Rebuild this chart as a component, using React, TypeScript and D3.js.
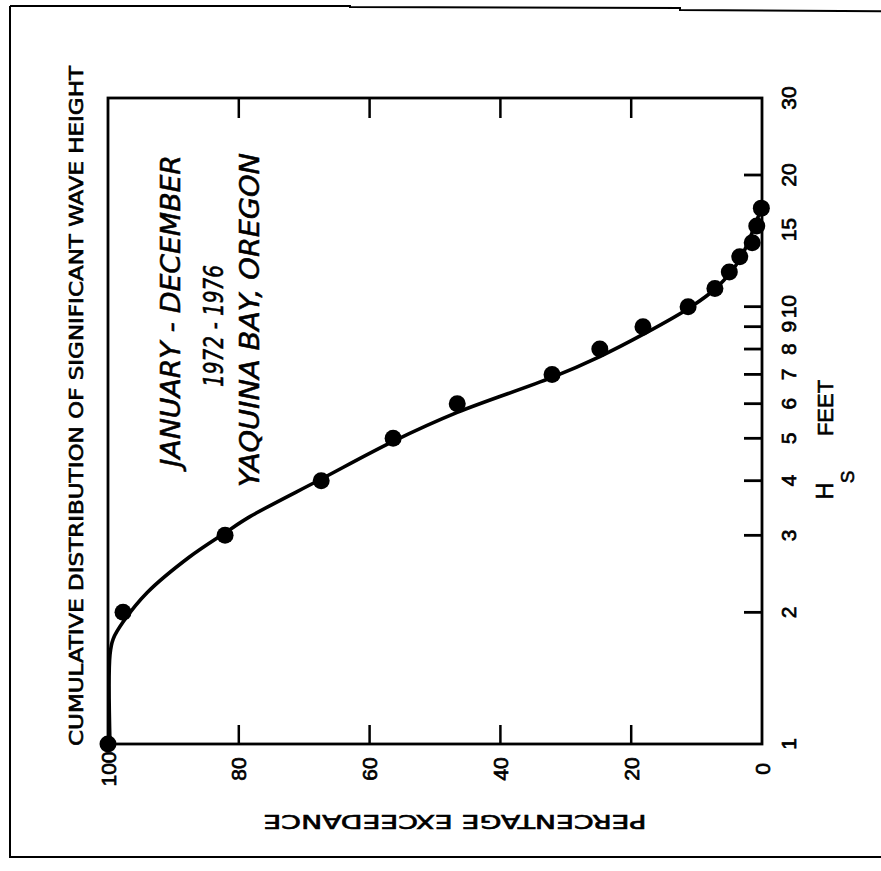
import React from "react";
import * as d3 from "d3";

// Observed data points (percentage exceedance, significant wave height in feet)
const pointPct = [100, 97.7, 82.1, 67.4, 56.4, 46.6, 32.1, 24.8, 18.2, 11.3, 7.2, 5.0, 3.4, 1.5, 0.8, 0.1];
const pointHeight = [1, 2, 3, 4, 5, 6, 7, 8, 9, 10, 11, 12, 13, 14, 15.3, 16.8];

// Fitted curve
const curvePct = [99.7, 99.7, 99.2, 97.7, 94.0, 87.5, 82.1, 78.3, 67.6, 56.4, 46.6, 32.1, 24.8, 18.2, 11.0, 6.9, 3.4, 0];
const curveHeight = [1.0, 1.6, 1.74, 1.9, 2.22, 2.68, 3.04, 3.31, 4.02, 4.92, 5.73, 6.89, 7.69, 8.64, 9.96, 11.07, 12.83, 16.97];

// Axis ticks
const pctTicks = [80, 60, 40, 20];
const pctLabels = [100, 80, 60, 40, 20, 0];
const heightTicks = [2, 3, 4, 5, 6, 7, 8, 9, 10, 20];
const heightLabels = [1, 2, 3, 4, 5, 6, 7, 8, 9, 10, 15, 20, 30];

const FONT = "'Liberation Sans', 'DejaVu Sans', Arial, sans-serif";
const NARROW = "'Liberation Sans Narrow', 'DejaVu Sans Condensed', 'Liberation Sans', sans-serif";

export default function App() {
  const W = 881;
  const H = 871;
  const left = 108, right = 762, top = 98, bottom = 744;
  const x = d3.scaleLinear().domain([100, 0]).range([left, right]);
  const y = d3.scaleLog().domain([1, 30]).range([bottom, top]);

  const curveData = curvePct.map((p, i) => [p, curveHeight[i]] as [number, number]);
  const line = d3
    .line<[number, number]>()
    .x((d) => x(d[0]))
    .y((d) => y(d[1]))
    .curve(d3.curveCatmullRom.alpha(0.5));

  const labelFmt = (v: number) => String(v);
  const ink = { fill: "#000", stroke: "#000" };

  return (
    <svg
      width={W}
      height={H}
      style={{ position: "absolute", left: 0, top: 0, background: "#fff" }}
    >
      <rect x={0} y={0} width={W} height={H} fill="#fff" />
      {/* outer frame */}
      <path
        d="M10,6 L350,6 L350,7 L680,8 L680,10 L1000,12 M10,6 L10,857 L881,857"
        fill="none"
        stroke="#000"
        strokeWidth={2}
      />

      {/* plot box */}
      <rect x={left} y={top} width={right - left} height={bottom - top} fill="none" stroke="#000" strokeWidth={2.8} />

      {/* bottom and top ticks */}
      {pctTicks.map((t) => (
        <g key={"pt" + t}>
          <line x1={x(t)} x2={x(t)} y1={bottom} y2={bottom - 19} stroke="#000" strokeWidth={2.5} />
          <line x1={x(t)} x2={x(t)} y1={top} y2={top + 20} stroke="#000" strokeWidth={2.5} />
        </g>
      ))}
      {/* right axis ticks */}
      {heightTicks.map((t) => (
        <line key={"ht" + t} x1={right} x2={right - 18} y1={y(t)} y2={y(t)} stroke="#000" strokeWidth={2.8} />
      ))}

      {/* bottom labels */}
      {pctLabels.map((t) => (
        <text
          key={"pl" + t}
          transform={`translate(${x(t)},${769}) rotate(-90)`}
          textAnchor="middle"
          dominantBaseline="central"
          fontFamily={FONT}
          fontSize={21}
          {...ink}
          strokeWidth={0.7}
        >
          {labelFmt(t)}
        </text>
      ))}
      {/* right labels */}
      {heightLabels.map((t) => (
        <text
          key={"hl" + t}
          transform={`translate(${788},${y(t)}) rotate(-90)`}
          textAnchor="middle"
          dominantBaseline="central"
          fontFamily={FONT}
          fontSize={21}
          {...ink}
          strokeWidth={0.7}
        >
          {labelFmt(t)}
        </text>
      ))}

      {/* left title */}
      <text
        transform={`translate(${76},${406}) rotate(-90)`}
        textAnchor="middle"
        dominantBaseline="central"
        fontFamily={NARROW}
        fontSize={20}
        textLength={680}
        lengthAdjust="spacingAndGlyphs"
        {...ink}
        strokeWidth={0.6}
      >
        CUMULATIVE  DISTRIBUTION  OF  SIGNIFICANT  WAVE  HEIGHT
      </text>

      {/* bottom axis title, upside down */}
      <text
        transform={`translate(${455},${822}) rotate(180)`}
        textAnchor="middle"
        dominantBaseline="central"
        fontFamily={NARROW}
        fontSize={20}
        textLength={383}
        lengthAdjust="spacingAndGlyphs"
        {...ink}
        strokeWidth={0.6}
      >
        PERCENTAGE  EXCEEDANCE
      </text>

      {/* right axis title */}
      <text
        transform={`translate(${825},${408}) rotate(-90)`}
        textAnchor="middle"
        dominantBaseline="central"
        fontFamily={FONT}
        fontSize={22}
        {...ink}
        strokeWidth={0.6}
      >
        FEET
      </text>
      <text
        transform={`translate(${825},${491}) rotate(-90)`}
        textAnchor="middle"
        dominantBaseline="central"
        fontFamily={FONT}
        fontSize={23}
        {...ink}
        strokeWidth={0.6}
      >
        H
      </text>
      <text
        transform={`translate(${847},${477}) rotate(-90)`}
        textAnchor="middle"
        dominantBaseline="central"
        fontFamily={FONT}
        fontSize={19}
        {...ink}
        strokeWidth={0.6}
      >
        S
      </text>

      {/* annotations */}
      <text
        transform={`translate(${171},${311}) rotate(-90)`}
        textAnchor="middle"
        dominantBaseline="central"
        fontFamily={NARROW}
        fontStyle="italic"
        fontSize={26}
        textLength={312}
        lengthAdjust="spacingAndGlyphs"
        {...ink}
        strokeWidth={0.5}
      >
        JANUARY - DECEMBER
      </text>
      <text
        transform={`translate(${213},${326}) rotate(-90)`}
        textAnchor="middle"
        dominantBaseline="central"
        fontFamily={NARROW}
        fontStyle="italic"
        fontSize={27}
        textLength={122}
        lengthAdjust="spacingAndGlyphs"
        {...ink}
        strokeWidth={0.5}
      >
        1972 - 1976
      </text>
      <text
        transform={`translate(${250},${320}) rotate(-90)`}
        textAnchor="middle"
        dominantBaseline="central"
        fontFamily={NARROW}
        fontStyle="italic"
        fontSize={26}
        textLength={334}
        lengthAdjust="spacingAndGlyphs"
        {...ink}
        strokeWidth={0.5}
      >
        YAQUINA BAY, OREGON
      </text>

      {/* fitted curve */}
      <path d={line(curveData) || ""} fill="none" stroke="#000" strokeWidth={3.6} strokeLinejoin="round" />

      {/* data points */}
      {pointPct.map((p, i) => (
        <circle key={"c" + i} cx={x(p)} cy={y(pointHeight[i])} r={8.5} fill="#000" />
      ))}
    </svg>
  );
}
